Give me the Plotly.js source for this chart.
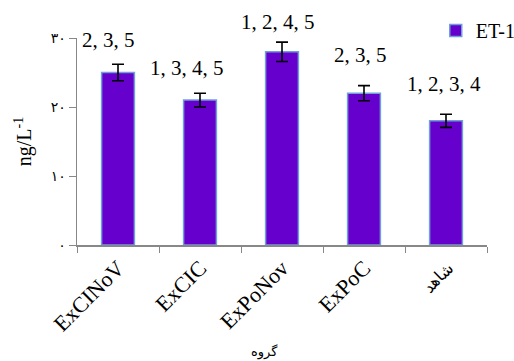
<!DOCTYPE html>
<html>
<head>
<meta charset="utf-8">
<script src="https://cdn.plot.ly/plotly-3.0.1.min.js"></script>
<style>html,body{margin:0;padding:0;background:#fff;} #chart{width:514px;height:361px;}</style>
</head>
<body>
<div id="chart"></div>
<script>
var categories = ["ExCINoV", "ExCIC", "ExPoNov", "ExPoC", "شاهد"];
var values = [25, 21, 28, 22, 18];
var errors = [1.2, 1.0, 1.4, 1.1, 0.95];
var groupLabels = ["2, 3, 5", "1, 3, 4, 5", "1, 2, 4, 5", "2, 3, 5", "1, 2, 3, 4"];
var yTickVals = [0, 10, 20, 30];
var yTickText = ["۰", "۱۰", "۲۰", "۳۰"];
var seriesName = "ET-1";
var yTitle = "ng/L<sup>-1</sup>";
var xTitle = "گروه";

// annotation placement in pixels, kept apart from data
var labelRaise = [24, 25, 20, 31, 30];
var labelShift = [-10, -13, -4, -4, -2];

var serif = "'Liberation Serif', 'Times New Roman', Times, serif";
var trace = {
  type: "bar",
  x: categories,
  y: values,
  name: seriesName,
  marker: {color: "#6600CC", line: {color: "#6FA0D8", width: 1.5}},
  error_y: {type: "data", array: errors, visible: true, color: "#000", thickness: 1.6, width: 6}
};

var annotations = categories.map(function (c, i) {
  return {x: c, y: values[i] + errors[i], xref: "x", yref: "y", text: groupLabels[i], showarrow: false,
          xshift: labelShift[i], yshift: labelRaise[i], font: {family: serif, size: 21, color: "#000"}};
});
annotations.push({x: 0.4585, y: -0.517, xref: "paper", yref: "paper", xanchor: "center", yanchor: "middle",
  text: xTitle, showarrow: false, font: {family: "'DejaVu Sans', sans-serif", size: 13, color: "#000"}});

var tickText = categories.map(function (c, i) {
  return i === categories.length - 1 ? '<span style="font-size:16px">' + c + '</span>' : c;
});

var layout = {
  width: 514, height: 361,
  margin: {l: 77, r: 27, t: 38, b: 116, pad: 0, autoexpand: false},
  paper_bgcolor: "#fff", plot_bgcolor: "#fff",
  showlegend: true,
  bargap: 0.6,
  legend: {x: 0.875, y: 1.13, xanchor: "left", yanchor: "top", font: {family: serif, size: 20, color: "#000"},
           itemwidth: 30, bgcolor: "rgba(0,0,0,0)"},
  xaxis: {
    type: "category", tickangle: -45, tickson: "boundaries", ticks: "outside", ticklen: 6,
    tickmode: "array", tickvals: categories, ticktext: tickText,
    tickcolor: "#888", showline: true, linecolor: "#888", linewidth: 1.5, showgrid: false,
    tickfont: {family: serif, size: 22, color: "#000"}, automargin: false
  },
  yaxis: {
    range: [0, 30], tickvals: yTickVals, ticktext: yTickText, ticks: "outside", ticklen: 7,
    tickcolor: "#888", showline: true, linecolor: "#888", linewidth: 1.5, showgrid: false, zeroline: false,
    tickfont: {family: "'DejaVu Sans', sans-serif", size: 14, color: "#000"},
    title: {text: yTitle, standoff: 13, font: {family: serif, size: 20, color: "#000"}}, automargin: false
  },
  annotations: annotations
};

Plotly.newPlot("chart", [trace], layout, {staticPlot: true, displayModeBar: false});
</script>
</body>
</html>
